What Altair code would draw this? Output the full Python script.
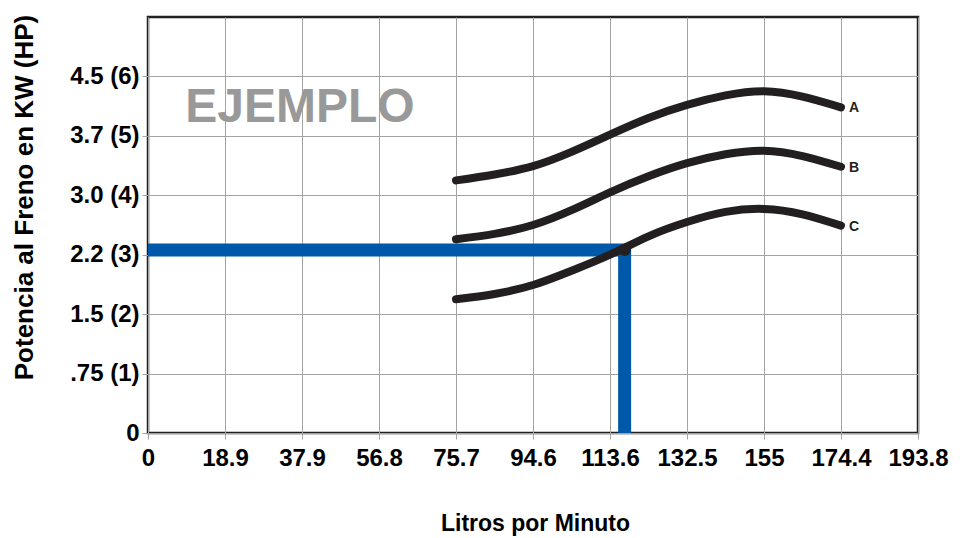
import json
import altair as alt
import pandas as pd

# ---- data ----
x_labels = ["0", "18.9", "37.9", "56.8", "75.7", "94.6", "113.6", "132.5", "155", "174.4", "193.8"]
y_labels = ["0", ".75 (1)", "1.5 (2)", "2.2 (3)", "3.0 (4)", "3.7 (5)", "4.5 (6)"]

# positions on the flow axis (tick index, half steps)
curve_x = [4, 4.5, 5, 5.5, 6, 6.5, 7, 7.5, 8, 8.5, 9]
curve_A = [4.25, 4.35, 4.49, 4.73, 5.02, 5.30, 5.52, 5.68, 5.75, 5.66, 5.48]
curve_B = [3.26, 3.35, 3.50, 3.75, 4.05, 4.32, 4.54, 4.69, 4.75, 4.66, 4.48]
curve_C = [2.25, 2.34, 2.49, 2.73, 3.00, 3.31, 3.55, 3.72, 3.77, 3.68, 3.49]
curve_names = ["A", "B", "C"]

example_x = 6.19      # operating point flow (tick index units)
example_y = 3.08      # operating point power (HP units)

# ---- tables ----
rows = []
for name, vals in zip(curve_names, [curve_A, curve_B, curve_C]):
    for x, y in zip(curve_x, vals):
        rows.append({"curve": name, "x": x, "y": y})
curves = pd.DataFrame(rows)
ends = curves[curves["x"] == curve_x[-1]]

blue = pd.DataFrame({
    "x": [0, example_x, example_x],
    "y": [example_y, example_y, 0],
    "o": [0, 1, 2],
})
dot = pd.DataFrame({"x": [example_x], "y": [example_y]})

FONT = "Liberation Sans"
INK = "#231f20"
GRID = "#a3a3a3"
BLUE = "#0059a8"

xscale = alt.Scale(domain=[0, 10], nice=False, zero=False)
yscale = alt.Scale(domain=[0, 7], nice=False)

x_expr = json.dumps(x_labels) + "[round(datum.value)]"
y_expr = ("datum.value == 0 ? '0\u00a0\u00a0' : " + json.dumps(y_labels) + "[round(datum.value)]")

x_axis = alt.Axis(
    values=list(range(11)), labelExpr=x_expr, grid=True, gridColor=GRID, gridWidth=1,
    tickColor=GRID, tickSize=6, domain=False,
    labelFont=FONT, labelFontSize=24, labelFontWeight="bold", labelColor="#000",
    labelPadding=7, labelFlush=False, labelOverlap=False,
    title="Litros por Minuto", titleFont=FONT, titleFontSize=23, titleFontWeight="bold",
    titleColor="#000", titleX=387, titleY=90, titleBaseline="middle",
)
y_axis = alt.Axis(
    values=list(range(7)), labelExpr=y_expr, grid=True, gridColor=GRID, gridWidth=1,
    tickColor=GRID, tickSize=6, domain=False,
    labelFont=FONT, labelFontSize=24, labelFontWeight="bold", labelColor="#000",
    labelPadding=3, labelFlush=False, labelOverlap=False, labelBaseline="middle",
    title="Potencia al Freno en KW (HP)", titleFont=FONT, titleFontSize=26,
    titleFontWeight="bold", titleColor="#000", titleX=-124, titleY=180,
    titleAlign="center", titleBaseline="middle", titleAngle=270,
)

X = alt.X("x:Q", scale=xscale, axis=x_axis)
Y = alt.Y("y:Q", scale=yscale, axis=y_axis)

blue_layer = alt.Chart(blue).mark_line(
    color=BLUE, strokeWidth=13, strokeCap="butt", strokeJoin="miter"
).encode(x=X, y=Y, order="o:Q")

curve_layer = alt.Chart(curves).mark_line(
    color=INK, strokeWidth=8, strokeCap="round", interpolate="natural"
).encode(x=X, y=Y, detail="curve:N")

dot_layer = alt.Chart(dot).mark_circle(color=INK, opacity=1, size=150).encode(x=X, y=Y)

end_labels = alt.Chart(ends).mark_text(
    font=FONT, fontSize=14, fontWeight="bold", color=INK, align="left",
    baseline="middle", dx=8, dy=1
).encode(x=X, y=Y, text="curve:N")

stamp = alt.Chart(pd.DataFrame({"t": ["EJEMPLO"]})).mark_text(
    font=FONT, fontSize=48, fontWeight="bold", color="#999999",
    align="center", baseline="middle"
).encode(x=alt.value(152), y=alt.value(91), text="t:N")

chart = alt.layer(blue_layer, curve_layer, dot_layer, end_labels, stamp).properties(
    width=770, height=416,
    autosize=alt.AutoSizeParams(type="none"),
    padding={"left": 140, "top": 9, "right": 46, "bottom": 115},
    background="white",
).configure_view(stroke=INK, strokeWidth=2.5)

chart.save("out.html", embed_options={"renderer": "svg", "actions": False})
